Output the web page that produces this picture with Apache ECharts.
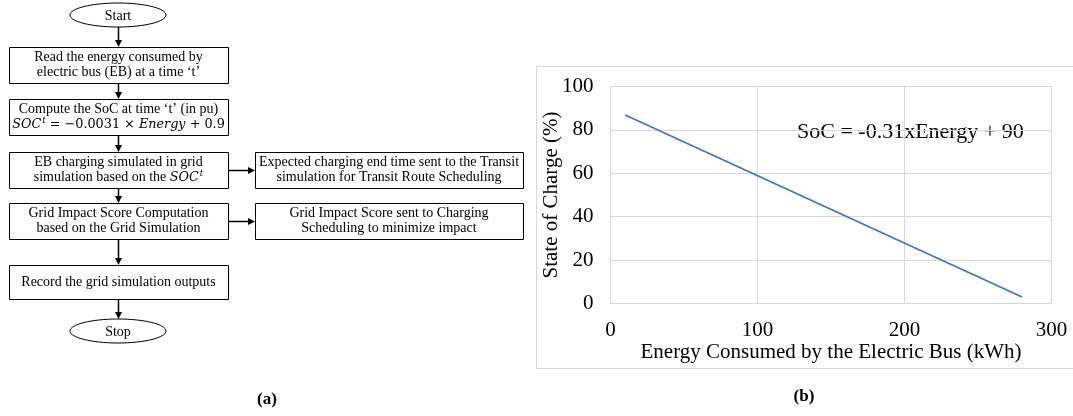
<!DOCTYPE html>
<html>
<head>
<meta charset="utf-8">
<script src="https://cdn.jsdelivr.net/npm/echarts@6/dist/echarts.min.js"></script>
<style>
html,body{margin:0;padding:0;background:#fff;}
#chart{width:1073px;height:416px;}
</style>
</head>
<body>
<div id="chart"></div>
<script>
// ---- data for chart (b) ----
const energyKWh = [10, 280];
const socPercent = [86.9, 3.0];
const xTicks = [0, 100, 200, 300];
const yTicks = [0, 20, 40, 60, 80, 100];
const xTitle = 'Energy Consumed by the Electric Bus (kWh)';
const yTitle = 'State of Charge (%)';
const equationLabel = 'SoC = -0.31xEnergy + 90';

// ---- texts for flowchart (a) ----
const startText = 'Start';
const stopText = 'Stop';
const mainSteps = [
  ['Read the energy consumed by', 'electric bus (EB) at a time \u2018t\u2019'],
  ['Compute the SoC at time \u2018t\u2019 (in pu)', 'MATH'],
  ['EB charging simulated in grid', 'simulation based on the {i|SOC}{sup|t}'],
  ['Grid Impact Score Computation', 'based on the Grid Simulation'],
  ['Record the grid simulation outputs']
];
const sideSteps = [
  ['Expected charging end time sent to the Transit', 'simulation for Transit Route Scheduling'],
  ['Grid Impact Score sent to Charging', 'Scheduling to minimize impact']
];

const SERIF = '"Liberation Serif", "DejaVu Serif", serif';
const MATH = '"DejaVu Serif", serif';
const chart = echarts.init(document.getElementById('chart'));

const graphics = [];
const rich = {
  i: {fontFamily: MATH, fontStyle: 'italic', fontSize: 12.8, fill: '#000'},
  sup: {fontFamily: MATH, fontStyle: 'italic', fontSize: 8.5, fill: '#000', verticalAlign: 'top', padding: [0,0,8,1]},
  n: {fontFamily: MATH, fontSize: 12.8, fill: '#000'}
};
function txt(x, y, s, opts) {
  graphics.push({
    type: 'text', x: x, y: y, silent: true,
    style: Object.assign({text: s, fontFamily: SERIF, fontSize: 14, fill: '#000', align: 'center', verticalAlign: 'middle', rich: rich}, opts || {})
  });
}
function box(x1, y1, x2, y2) {
  graphics.push({type: 'rect', shape: {x: x1 + 0.5, y: y1 + 0.5, width: x2 - x1, height: y2 - y1},
    style: {fill: '#fff', stroke: '#000', lineWidth: 1}, silent: true});
}
function arrowDown(x, y1, y2) {
  graphics.push({type: 'line', shape: {x1: x + 0.5, y1: y1, x2: x + 0.5, y2: y2 - 5}, style: {stroke: '#000', lineWidth: 1.5}, silent: true});
  graphics.push({type: 'polygon', shape: {points: [[x - 3, y2 - 7], [x + 4, y2 - 7], [x + 0.5, y2]]}, style: {fill: '#000'}, silent: true});
}
function arrowRight(x1, x2, y) {
  graphics.push({type: 'line', shape: {x1: x1, y1: y + 0.5, x2: x2 - 5, y2: y + 0.5}, style: {stroke: '#000', lineWidth: 1.5}, silent: true});
  graphics.push({type: 'polygon', shape: {points: [[x2 - 7, y - 3], [x2 - 7, y + 4], [x2, y + 0.5]]}, style: {fill: '#000'}, silent: true});
}
function ellipse(cx, cy, rx, ry, s) {
  graphics.push({type: 'ellipse', shape: {cx: cx, cy: cy, rx: rx, ry: ry}, style: {fill: '#fff', stroke: '#000', lineWidth: 1}, silent: true});
  txt(cx, cy + 1, s, {fontSize: 14});
}

// flowchart layout
const colX1 = 9, colX2 = 228, colC = 118;
const boxY = [[47, 83], [99, 135], [152, 188], [203, 239], [265, 299]];
ellipse(colC, 15, 48, 12, startText);
arrowDown(colC, 27, boxY[0][0]);
mainSteps.forEach((lines, k) => {
  const [y1, y2] = boxY[k];
  box(colX1, y1, colX2, y2);
  const cy = (y1 + y2) / 2;
  if (lines.length === 1) {
    txt((colX1 + colX2) / 2, cy, lines[0]);
  } else {
    txt((colX1 + colX2) / 2, cy - 7.5, lines[0]);
    const l2 = lines[1] === 'MATH'
      ? '{i|SOC}{sup|t}{n| = \u22120.0031 \u00d7 }{i|Energy}{n| + 0.9}'
      : lines[1];
    txt((colX1 + colX2) / 2, cy + 7.5, l2);
  }
  if (k < mainSteps.length - 1) arrowDown(colC, y2, boxY[k + 1][0]);
});
arrowDown(colC, boxY[4][1], 319);
ellipse(colC, 331, 48, 12, stopText);

const sideX1 = 255, sideX2 = 523;
sideSteps.forEach((lines, k) => {
  const [y1, y2] = boxY[k + 2];
  box(sideX1, y1, sideX2, y2);
  const cy = (y1 + y2) / 2;
  txt((sideX1 + sideX2) / 2, cy - 7.5, lines[0]);
  txt((sideX1 + sideX2) / 2, cy + 7.5, lines[1]);
  arrowRight(colX2, sideX1, Math.round(cy));
});

// sub-figure labels
txt(267, 400, '(a)', {fontSize: 17, fontWeight: 'bold'});
txt(804, 397, '(b)', {fontSize: 17, fontWeight: 'bold'});

// chart border
graphics.unshift({type: 'rect', shape: {x: 536.5, y: 66.5, width: 540, height: 302}, style: {fill: 'none', stroke: '#d9d9d9', lineWidth: 1}, silent: true, z: -1});
// equation annotation
txt(797, 132, equationLabel, {fontSize: 22, align: 'left'});

chart.setOption({
  animation: false,
  backgroundColor: '#fff',
  grid: {left: 610.5, top: 86.5, width: 441, height: 217, containLabel: false},
  xAxis: {
    type: 'value', min: xTicks[0], max: xTicks[xTicks.length - 1], interval: 100,
    name: xTitle, nameLocation: 'middle', nameGap: 38, nameMoveOverlap: false,
    nameTextStyle: {fontFamily: SERIF, fontSize: 21, color: '#000'},
    axisLine: {show: true, lineStyle: {color: '#d9d9d9'}},
    axisTick: {show: false},
    axisLabel: {fontFamily: SERIF, fontSize: 21, color: '#000', margin: 16},
    splitLine: {show: true, lineStyle: {color: '#d9d9d9', width: 1}}
  },
  yAxis: {
    type: 'value', min: yTicks[0], max: yTicks[yTicks.length - 1], interval: 20,
    name: yTitle, nameLocation: 'middle', nameGap: 49, nameMoveOverlap: false,
    nameTextStyle: {fontFamily: SERIF, fontSize: 21, color: '#000'},
    axisLine: {show: false},
    axisTick: {show: false},
    axisLabel: {fontFamily: SERIF, fontSize: 21, color: '#000', margin: 17},
    splitLine: {show: true, lineStyle: {color: '#d9d9d9', width: 1}}
  },
  series: [{
    type: 'line',
    data: energyKWh.map((e, i) => [e, socPercent[i]]),
    showSymbol: false,
    lineStyle: {color: '#4472C4', width: 1.75},
    silent: true
  }],
  graphic: graphics
});
</script>
</body>
</html>
